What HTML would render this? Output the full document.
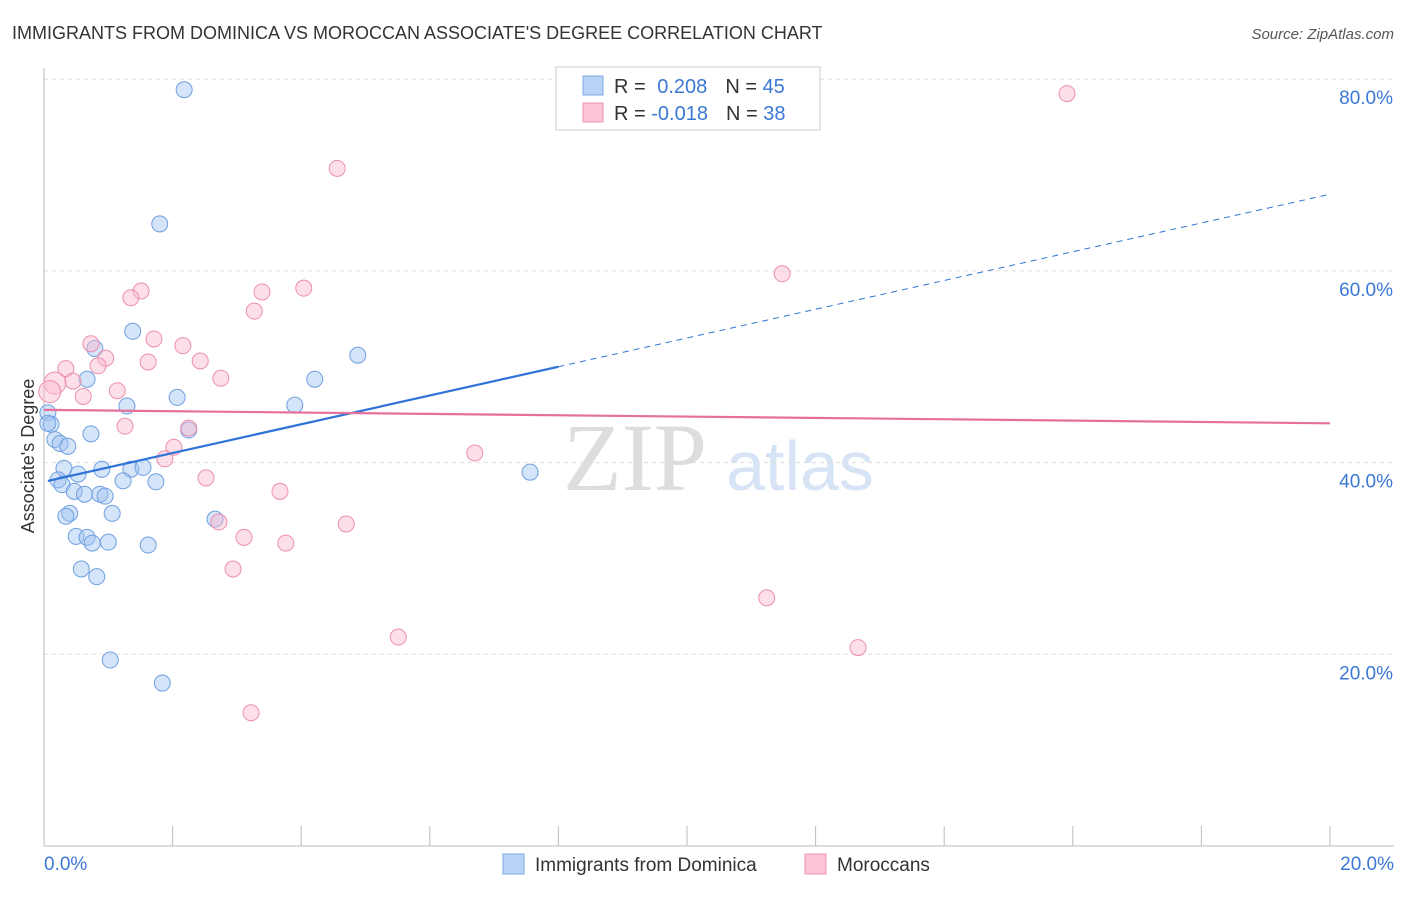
<!DOCTYPE html>
<html><head><meta charset="utf-8"><style>
body{margin:0;background:#fff;font-family:"Liberation Sans",sans-serif;}
</style></head><body>
<svg width="1406" height="892" xmlns="http://www.w3.org/2000/svg" font-family="Liberation Sans, sans-serif">
<text x="12" y="39" font-size="18" fill="#333">IMMIGRANTS FROM DOMINICA VS MOROCCAN ASSOCIATE'S DEGREE CORRELATION CHART</text>
<text x="1394" y="39" font-size="15" fill="#555" font-style="italic" text-anchor="end">Source: ZipAtlas.com</text>
<g><text x="635" y="490" font-size="96" fill="#ddd" text-anchor="middle" font-family="Liberation Serif, serif">ZIP</text><text x="800" y="490" font-size="70" fill="#d6e4f5" text-anchor="middle">atlas</text></g>
<g id="grid"></g><g id="axes"></g><g id="marks"></g>
<g>
<rect x="556" y="67" width="264" height="63" fill="#fff" stroke="#ccc"/>
<rect x="583" y="76" width="20" height="19" fill="#b9d3f6" stroke="#7fa9e6"/>
<rect x="583" y="103" width="20" height="19" fill="#fbc5d6" stroke="#ee93b1"/>
<text x="614" y="93" font-size="20" fill="#333">R = <tspan fill="#3a78d4" dx="6">0.208</tspan><tspan dx="18" fill="#333">N = </tspan><tspan fill="#3a78d4">45</tspan></text>
<text x="614" y="120" font-size="20" fill="#333">R = <tspan fill="#3a78d4">-0.018</tspan><tspan dx="18" fill="#333">N = </tspan><tspan fill="#3a78d4">38</tspan></text>
</g>
<g>
<rect x="503" y="854" width="21" height="20" fill="#b9d3f6" stroke="#7fa9e6"/>
<text x="535" y="871" font-size="19" fill="#333">Immigrants from Dominica</text>
<rect x="805" y="854" width="21" height="20" fill="#fbc5d6" stroke="#ee93b1"/>
<text x="837" y="871" font-size="19" fill="#333">Moroccans</text>
</g>
<text transform="translate(34,456) rotate(-90)" font-size="18" fill="#333" text-anchor="middle">Associate's Degree</text>
</svg>
<script>
const yTicks=[20,40,60,80];
const yTickLabels=["20.0%","40.0%","60.0%","80.0%"];
const xTickVals=[0,2,4,6,8,10,12,14,16,18,20];
const blueX=[2.18,1.80,1.38,0.79,4.88,4.21,0.67,2.07,1.29,3.90,0.06,0.11,2.25,0.73,0.17,0.25,0.37,0.31,0.90,1.35,1.54,0.53,7.56,1.23,1.74,0.22,0.28,0.47,0.63,0.87,0.95,1.06,0.40,0.34,2.66,0.50,0.67,0.75,1.00,1.62,0.58,0.82,1.03,1.84,0.06];
const blueY=[78.9,64.9,53.7,51.9,51.2,48.7,48.7,46.8,45.9,46.0,45.2,44.0,43.4,43.0,42.4,42.0,41.7,39.4,39.3,39.3,39.5,38.8,39.0,38.1,38.0,38.2,37.7,37.0,36.7,36.7,36.5,34.7,34.7,34.4,34.1,32.3,32.2,31.6,31.7,31.4,28.9,28.1,19.4,17.0,44.1];
const pinkX=[15.91,4.56,11.48,1.51,4.04,3.39,1.35,3.27,1.71,2.16,0.73,0.96,1.62,2.43,0.84,0.34,2.75,0.45,0.17,1.14,0.61,1.26,2.25,2.02,1.88,6.70,2.52,3.67,2.72,4.70,3.11,3.76,2.94,11.24,5.51,12.66,3.22,0.09];
const pinkY=[78.5,70.7,59.7,57.9,58.2,57.8,57.2,55.8,52.9,52.2,52.4,50.9,50.5,50.6,50.1,49.8,48.8,48.5,48.3,47.5,46.9,43.8,43.6,41.6,40.4,41.0,38.4,37.0,33.8,33.6,32.2,31.6,28.9,25.9,21.8,20.7,13.9,47.4];
const blueTrend=[38.0,1.5,8.0];
const pinkTrend=[45.5,44.1];
const X=v=>44+v*64.3, Y=v=>846-v*9.585;
const NS="http://www.w3.org/2000/svg";
function mk(p,t,a){const e=document.createElementNS(NS,t);for(const k in a)e.setAttribute(k,a[k]);p.appendChild(e);return e;}
const grid=document.getElementById('grid'),axes=document.getElementById('axes'),marks=document.getElementById('marks');
yTicks.forEach((v,i)=>{const l=mk(grid,'line',{x1:44,x2:1394,y1:Y(v),y2:Y(v),stroke:'#ddd','stroke-dasharray':'4,4'});


const t=mk(axes,'text',{x:1393,y:Y(v)+25,'font-size':19,fill:'#3a78d4','text-anchor':'end'});t.textContent=yTickLabels[i];

});
mk(axes,'line',{x1:44,x2:44,y1:68,y2:846,stroke:'#bbb'});
mk(axes,'line',{x1:44,x2:1394,y1:846,y2:846,stroke:'#bbb'});
xTickVals.forEach(v=>{const l=mk(axes,'line',{x1:X(v),x2:X(v),y1:826,y2:846,stroke:'#bbb'});

});
const x0=mk(axes,'text',{x:44,y:870,'font-size':19,fill:'#3a78d4'});x0.textContent='0.0%';


const x1=mk(axes,'text',{x:1394,y:870,'font-size':19,fill:'#3a78d4','text-anchor':'end'});x1.textContent='20.0%';


blueX.forEach((v,i)=>{const c=mk(marks,'circle',{cx:X(v),cy:Y(blueY[i]),r:8,fill:'rgba(160,195,242,0.45)',stroke:'#6f9fe0','stroke-width':1});

});
pinkX.forEach((v,i)=>{const big=i>=pinkX.length-1||i==18;const c=mk(marks,'circle',{cx:X(v),cy:Y(pinkY[i]),r:big?11:8,fill:'rgba(250,185,205,0.45)',stroke:'#ec8fae','stroke-width':1});

});
const bl=mk(marks,'line',{x1:X(0.06),y1:Y(blueTrend[0]+blueTrend[1]*0.06),x2:X(blueTrend[2]),y2:Y(blueTrend[0]+blueTrend[1]*blueTrend[2]),stroke:'#2f74d6','stroke-width':2.2});


const bd=mk(marks,'line',{x1:X(blueTrend[2]),y1:Y(blueTrend[0]+blueTrend[1]*blueTrend[2]),x2:X(20),y2:Y(blueTrend[0]+blueTrend[1]*20),stroke:'#2f74d6','stroke-width':1,'stroke-dasharray':'6,5'});


const pl=mk(marks,'line',{x1:X(0),y1:Y(pinkTrend[0]),x2:X(20),y2:Y(pinkTrend[1]),stroke:'#e5709a','stroke-width':2.2});


</script>
</body></html>
